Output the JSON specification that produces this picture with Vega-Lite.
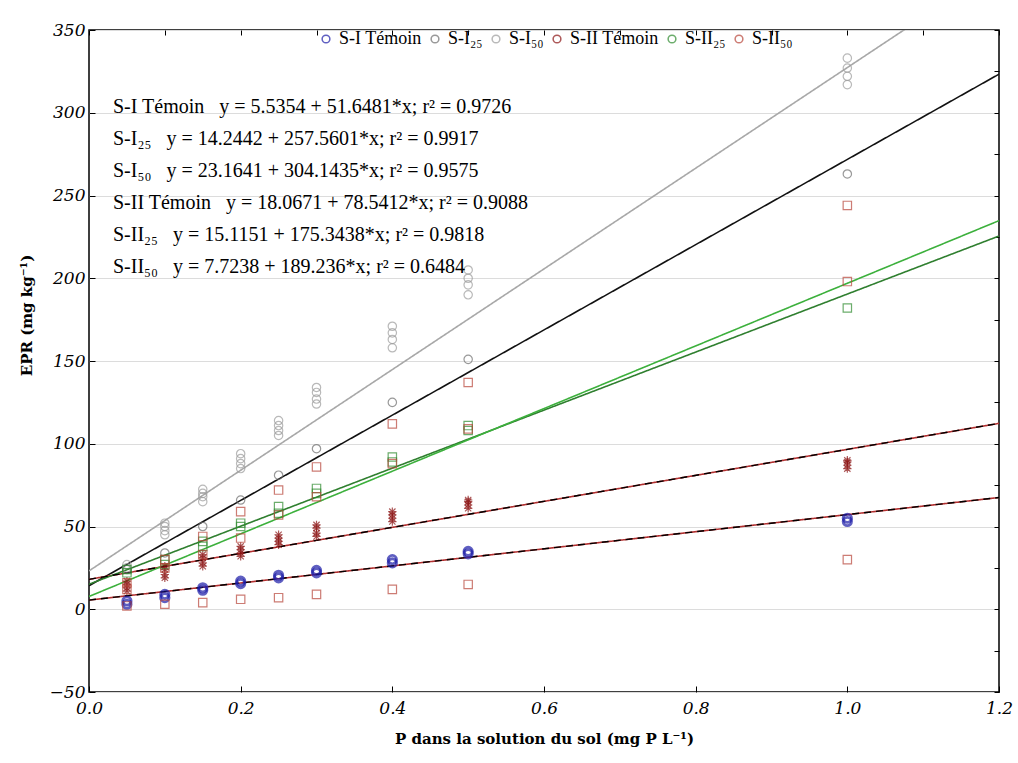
{
  "$schema": "https://vega.github.io/schema/vega-lite/v6.json",
  "width": 910,
  "height": 662,
  "autosize": {"type": "none"},
  "padding": {"left": 89, "top": 30, "right": 19, "bottom": 71},
  "background": "white",
  "config": {
    "font": "Liberation Serif",
    "view": {"stroke": "black", "strokeWidth": 1.5},
    "axis": {"labelColor": "black", "titleColor": "black", "tickColor": "black", "domainColor": "black"}
  },
  "datasets": {
    "fits": [
      {"fit": "S-I Témoin", "equation": "S-I Témoin\u00a0\u00a0 y = 5.5354 + 51.6481*x; r² = 0.9726", "x": 0, "y": 5.5354},
      {"fit": "S-I Témoin", "equation": "S-I Témoin\u00a0\u00a0 y = 5.5354 + 51.6481*x; r² = 0.9726", "x": 1.2, "y": 67.513},
      {"fit": "S-I25", "equation": "S-I₂₅\u00a0\u00a0 y = 14.2442 + 257.5601*x; r² = 0.9917", "x": 0, "y": 14.2442},
      {"fit": "S-I25", "equation": "S-I₂₅\u00a0\u00a0 y = 14.2442 + 257.5601*x; r² = 0.9917", "x": 1.2, "y": 323.316},
      {"fit": "S-I50", "equation": "S-I₅₀\u00a0\u00a0 y = 23.1641 + 304.1435*x; r² = 0.9575", "x": 0, "y": 23.1641},
      {"fit": "S-I50", "equation": "S-I₅₀\u00a0\u00a0 y = 23.1641 + 304.1435*x; r² = 0.9575", "x": 1.2, "y": 388.136},
      {"fit": "S-II Témoin", "equation": "S-II Témoin\u00a0\u00a0 y = 18.0671 + 78.5412*x; r² = 0.9088", "x": 0, "y": 18.0671},
      {"fit": "S-II Témoin", "equation": "S-II Témoin\u00a0\u00a0 y = 18.0671 + 78.5412*x; r² = 0.9088", "x": 1.2, "y": 112.317},
      {"fit": "S-II25", "equation": "S-II₂₅\u00a0\u00a0 y = 15.1151 + 175.3438*x; r² = 0.9818", "x": 0, "y": 15.1151},
      {"fit": "S-II25", "equation": "S-II₂₅\u00a0\u00a0 y = 15.1151 + 175.3438*x; r² = 0.9818", "x": 1.2, "y": 225.528},
      {"fit": "S-II50", "equation": "S-II₅₀\u00a0\u00a0 y = 7.7238 + 189.236*x; r² = 0.6484", "x": 0, "y": 7.7238},
      {"fit": "S-II50", "equation": "S-II₅₀\u00a0\u00a0 y = 7.7238 + 189.236*x; r² = 0.6484", "x": 1.2, "y": 234.807}
    ],
    "points": [
      {"series": "S-I Témoin", "x": 0.05, "y": 3}, {"series": "S-I Témoin", "x": 0.05, "y": 5},
      {"series": "S-I Témoin", "x": 0.1, "y": 7}, {"series": "S-I Témoin", "x": 0.1, "y": 9},
      {"series": "S-I Témoin", "x": 0.15, "y": 11.5}, {"series": "S-I Témoin", "x": 0.15, "y": 13},
      {"series": "S-I Témoin", "x": 0.2, "y": 15.5}, {"series": "S-I Témoin", "x": 0.2, "y": 17},
      {"series": "S-I Témoin", "x": 0.25, "y": 19}, {"series": "S-I Témoin", "x": 0.25, "y": 20.5},
      {"series": "S-I Témoin", "x": 0.3, "y": 22}, {"series": "S-I Témoin", "x": 0.3, "y": 23.5},
      {"series": "S-I Témoin", "x": 0.4, "y": 28}, {"series": "S-I Témoin", "x": 0.4, "y": 30},
      {"series": "S-I Témoin", "x": 0.5, "y": 33.5}, {"series": "S-I Témoin", "x": 0.5, "y": 35},
      {"series": "S-I Témoin", "x": 1.0, "y": 53}, {"series": "S-I Témoin", "x": 1.0, "y": 55},
      {"series": "S-I25", "x": 0.05, "y": 24}, {"series": "S-I25", "x": 0.1, "y": 34},
      {"series": "S-I25", "x": 0.15, "y": 50}, {"series": "S-I25", "x": 0.2, "y": 66},
      {"series": "S-I25", "x": 0.25, "y": 81}, {"series": "S-I25", "x": 0.3, "y": 97},
      {"series": "S-I25", "x": 0.4, "y": 125}, {"series": "S-I25", "x": 0.5, "y": 151},
      {"series": "S-I25", "x": 1.0, "y": 263},
      {"series": "S-I50", "x": 0.05, "y": 25}, {"series": "S-I50", "x": 0.05, "y": 27},
      {"series": "S-I50", "x": 0.1, "y": 45}, {"series": "S-I50", "x": 0.1, "y": 47.5}, {"series": "S-I50", "x": 0.1, "y": 50}, {"series": "S-I50", "x": 0.1, "y": 52},
      {"series": "S-I50", "x": 0.15, "y": 65}, {"series": "S-I50", "x": 0.15, "y": 68}, {"series": "S-I50", "x": 0.15, "y": 70}, {"series": "S-I50", "x": 0.15, "y": 72.5},
      {"series": "S-I50", "x": 0.2, "y": 85}, {"series": "S-I50", "x": 0.2, "y": 88}, {"series": "S-I50", "x": 0.2, "y": 91}, {"series": "S-I50", "x": 0.2, "y": 94},
      {"series": "S-I50", "x": 0.25, "y": 105}, {"series": "S-I50", "x": 0.25, "y": 108}, {"series": "S-I50", "x": 0.25, "y": 111}, {"series": "S-I50", "x": 0.25, "y": 114},
      {"series": "S-I50", "x": 0.3, "y": 124}, {"series": "S-I50", "x": 0.3, "y": 127}, {"series": "S-I50", "x": 0.3, "y": 131}, {"series": "S-I50", "x": 0.3, "y": 134},
      {"series": "S-I50", "x": 0.4, "y": 158}, {"series": "S-I50", "x": 0.4, "y": 163}, {"series": "S-I50", "x": 0.4, "y": 167}, {"series": "S-I50", "x": 0.4, "y": 171},
      {"series": "S-I50", "x": 0.5, "y": 190}, {"series": "S-I50", "x": 0.5, "y": 196}, {"series": "S-I50", "x": 0.5, "y": 200}, {"series": "S-I50", "x": 0.5, "y": 205},
      {"series": "S-I50", "x": 1.0, "y": 317}, {"series": "S-I50", "x": 1.0, "y": 322}, {"series": "S-I50", "x": 1.0, "y": 327}, {"series": "S-I50", "x": 1.0, "y": 333},
      {"series": "S-II Témoin", "x": 0.05, "y": 11}, {"series": "S-II Témoin", "x": 0.05, "y": 13}, {"series": "S-II Témoin", "x": 0.05, "y": 15}, {"series": "S-II Témoin", "x": 0.05, "y": 17},
      {"series": "S-II Témoin", "x": 0.1, "y": 19}, {"series": "S-II Témoin", "x": 0.1, "y": 21}, {"series": "S-II Témoin", "x": 0.1, "y": 24}, {"series": "S-II Témoin", "x": 0.1, "y": 26},
      {"series": "S-II Témoin", "x": 0.15, "y": 26}, {"series": "S-II Témoin", "x": 0.15, "y": 28}, {"series": "S-II Témoin", "x": 0.15, "y": 31}, {"series": "S-II Témoin", "x": 0.15, "y": 33},
      {"series": "S-II Témoin", "x": 0.2, "y": 32}, {"series": "S-II Témoin", "x": 0.2, "y": 34}, {"series": "S-II Témoin", "x": 0.2, "y": 36}, {"series": "S-II Témoin", "x": 0.2, "y": 38},
      {"series": "S-II Témoin", "x": 0.25, "y": 39}, {"series": "S-II Témoin", "x": 0.25, "y": 41}, {"series": "S-II Témoin", "x": 0.25, "y": 43}, {"series": "S-II Témoin", "x": 0.25, "y": 45},
      {"series": "S-II Témoin", "x": 0.3, "y": 44}, {"series": "S-II Témoin", "x": 0.3, "y": 46}, {"series": "S-II Témoin", "x": 0.3, "y": 49}, {"series": "S-II Témoin", "x": 0.3, "y": 51},
      {"series": "S-II Témoin", "x": 0.4, "y": 53}, {"series": "S-II Témoin", "x": 0.4, "y": 55}, {"series": "S-II Témoin", "x": 0.4, "y": 57}, {"series": "S-II Témoin", "x": 0.4, "y": 59},
      {"series": "S-II Témoin", "x": 0.5, "y": 61}, {"series": "S-II Témoin", "x": 0.5, "y": 63}, {"series": "S-II Témoin", "x": 0.5, "y": 65}, {"series": "S-II Témoin", "x": 0.5, "y": 66},
      {"series": "S-II Témoin", "x": 1.0, "y": 85}, {"series": "S-II Témoin", "x": 1.0, "y": 87}, {"series": "S-II Témoin", "x": 1.0, "y": 89}, {"series": "S-II Témoin", "x": 1.0, "y": 90},
      {"series": "S-II25", "x": 0.05, "y": 22}, {"series": "S-II25", "x": 0.05, "y": 24},
      {"series": "S-II25", "x": 0.1, "y": 27}, {"series": "S-II25", "x": 0.1, "y": 30},
      {"series": "S-II25", "x": 0.15, "y": 38}, {"series": "S-II25", "x": 0.15, "y": 41},
      {"series": "S-II25", "x": 0.2, "y": 50}, {"series": "S-II25", "x": 0.2, "y": 52},
      {"series": "S-II25", "x": 0.25, "y": 58}, {"series": "S-II25", "x": 0.25, "y": 62},
      {"series": "S-II25", "x": 0.3, "y": 70}, {"series": "S-II25", "x": 0.3, "y": 73},
      {"series": "S-II25", "x": 0.4, "y": 89}, {"series": "S-II25", "x": 0.4, "y": 92},
      {"series": "S-II25", "x": 0.5, "y": 108}, {"series": "S-II25", "x": 0.5, "y": 111},
      {"series": "S-II25", "x": 1.0, "y": 182},
      {"series": "S-II50", "x": 0.05, "y": 2}, {"series": "S-II50", "x": 0.05, "y": 12}, {"series": "S-II50", "x": 0.05, "y": 16},
      {"series": "S-II50", "x": 0.1, "y": 3}, {"series": "S-II50", "x": 0.1, "y": 25}, {"series": "S-II50", "x": 0.1, "y": 30},
      {"series": "S-II50", "x": 0.15, "y": 4}, {"series": "S-II50", "x": 0.15, "y": 33}, {"series": "S-II50", "x": 0.15, "y": 44},
      {"series": "S-II50", "x": 0.2, "y": 6}, {"series": "S-II50", "x": 0.2, "y": 43}, {"series": "S-II50", "x": 0.2, "y": 59},
      {"series": "S-II50", "x": 0.25, "y": 7}, {"series": "S-II50", "x": 0.25, "y": 57}, {"series": "S-II50", "x": 0.25, "y": 72},
      {"series": "S-II50", "x": 0.3, "y": 9}, {"series": "S-II50", "x": 0.3, "y": 68}, {"series": "S-II50", "x": 0.3, "y": 86},
      {"series": "S-II50", "x": 0.4, "y": 12}, {"series": "S-II50", "x": 0.4, "y": 88}, {"series": "S-II50", "x": 0.4, "y": 112},
      {"series": "S-II50", "x": 0.5, "y": 15}, {"series": "S-II50", "x": 0.5, "y": 109}, {"series": "S-II50", "x": 0.5, "y": 137},
      {"series": "S-II50", "x": 1.0, "y": 30}, {"series": "S-II50", "x": 1.0, "y": 198}, {"series": "S-II50", "x": 1.0, "y": 244}
    ]
  },
  "layer": [
    {
      "data": {"name": "fits"},
      "mark": {"type": "line", "clip": true, "strokeWidth": 1.6},
      "encoding": {
        "x": {"field": "x", "type": "quantitative", "scale": {"domain": [0, 1.2], "nice": false, "zero": false},
          "axis": {"orient": "bottom", "values": [0, 0.2, 0.4, 0.6, 0.8, 1.0, 1.2], "format": ".1f", "grid": false, "domain": false,
            "tickSize": -6, "labelFlush": false, "labelFont": "DejaVu Serif", "labelFontStyle": "italic", "labelFontSize": 17, "labelPadding": 14,
            "title": "P dans la solution du sol (mg P L⁻¹)", "titleFont": "DejaVu Serif", "titleFontWeight": "bold", "titleFontSize": 15, "titlePadding": 15}},
        "y": {"field": "y", "type": "quantitative", "scale": {"domain": [-50, 350], "nice": false, "zero": false},
          "axis": {"orient": "left", "values": [-50, 0, 50, 100, 150, 200, 250, 300, 350], "grid": true, "gridColor": "#dcdcdc", "gridWidth": 1, "domain": false,
            "tickSize": -6, "labelFlush": false, "labelFont": "DejaVu Serif", "labelFontStyle": "italic", "labelFontSize": 17, "labelPadding": 10,
            "title": "EPR (mg kg⁻¹)", "titleFont": "DejaVu Serif", "titleFontWeight": "bold", "titleFontSize": 15, "titlePadding": 15, "titleY": 285}},
        "detail": {"field": "fit", "type": "nominal"},
        "color": {"field": "fit", "type": "nominal",
          "scale": {"domain": ["S-I Témoin", "S-I25", "S-I50", "S-II Témoin", "S-II25", "S-II50"],
            "range": ["#b23030", "#111111", "#a8a8a8", "#b23030", "#2f7f2f", "#3cb03c"]},
          "legend": null},
        "strokeDash": {"field": "equation", "type": "nominal",
          "scale": {"domain": [
            "S-I Témoin\u00a0\u00a0 y = 5.5354 + 51.6481*x; r² = 0.9726",
            "S-I₂₅\u00a0\u00a0 y = 14.2442 + 257.5601*x; r² = 0.9917",
            "S-I₅₀\u00a0\u00a0 y = 23.1641 + 304.1435*x; r² = 0.9575",
            "S-II Témoin\u00a0\u00a0 y = 18.0671 + 78.5412*x; r² = 0.9088",
            "S-II₂₅\u00a0\u00a0 y = 15.1151 + 175.3438*x; r² = 0.9818",
            "S-II₅₀\u00a0\u00a0 y = 7.7238 + 189.236*x; r² = 0.6484"],
            "range": [[1, 0], [1, 0], [1, 0], [1, 0], [1, 0], [1, 0]]},
          "legend": {"orient": "none", "legendX": 4, "legendY": 67, "direction": "vertical", "title": null,
            "labelFont": "Liberation Serif", "labelFontSize": 20, "labelColor": "black", "labelLimit": 700,
            "symbolOpacity": 0, "symbolSize": 0, "symbolStrokeWidth": 0, "labelOffset": 0, "rowPadding": 12, "padding": 0}}
      }
    },
    {
      "data": {"name": "fits"},
      "transform": [{"filter": "indexof(datum.fit, 'Témoin') >= 0"}],
      "mark": {"type": "line", "clip": true, "color": "black", "strokeDash": [7, 5], "strokeWidth": 1.4},
      "encoding": {
        "x": {"field": "x", "type": "quantitative", "axis": {"orient": "top", "values": [0, 0.1, 0.2, 0.3, 0.4, 0.5, 0.6, 0.7, 0.8, 0.9, 1.0, 1.1, 1.2], "labels": false, "title": null, "grid": false, "domain": false, "tickSize": -5}},
        "y": {"field": "y", "type": "quantitative", "axis": {"orient": "right", "values": [-50, -25, 0, 25, 50, 75, 100, 125, 150, 175, 200, 225, 250, 275, 300, 325, 350], "labels": false, "title": null, "grid": false, "domain": false, "tickSize": -5}},
        "detail": {"field": "fit", "type": "nominal"}
      }
    },
    {
      "data": {"name": "points"},
      "mark": {"type": "point", "filled": false, "clip": true, "size": 70},
      "encoding": {
        "x": {"field": "x", "type": "quantitative", "axis": null},
        "y": {"field": "y", "type": "quantitative", "axis": null},
        "color": {"field": "series", "type": "nominal",
          "scale": {"domain": ["S-I Témoin", "S-I25", "S-I50", "S-II Témoin", "S-II25", "S-II50"],
            "range": ["#1c1ca8", "#6e6e6e", "#9c9c9c", "#8b1212", "#2e8b2e", "#b8463a"]},
          "legend": {"orient": "none", "legendX": 228, "legendY": 0, "direction": "horizontal", "columns": 6, "title": null,
            "labelExpr": "replace(replace(datum.label, '25', '₂₅'), '50', '₅₀')",
            "labelFont": "Liberation Serif", "labelFontSize": 18, "labelColor": "black", "symbolSize": 60, "symbolStrokeWidth": 1.5, "columnPadding": 4, "labelOffset": 4, "padding": 0, "labelLimit": 200}},
        "shape": {"field": "series", "type": "nominal",
          "scale": {"domain": ["S-I Témoin", "S-I25", "S-I50", "S-II Témoin", "S-II25", "S-II50"],
            "range": ["circle", "circle", "circle", "M-1,0L1,0M0,-1L0,1M-0.75,-0.75L0.75,0.75M-0.75,0.75L0.75,-0.75", "square", "square"]}},
        "strokeWidth": {"condition": {"test": "datum.series === 'S-I Témoin'", "value": 2.8}, "value": 1.2}
      }
    }
  ],
  "resolve": {"scale": {"color": "independent"}, "axis": {"x": "independent", "y": "independent"}}
}
